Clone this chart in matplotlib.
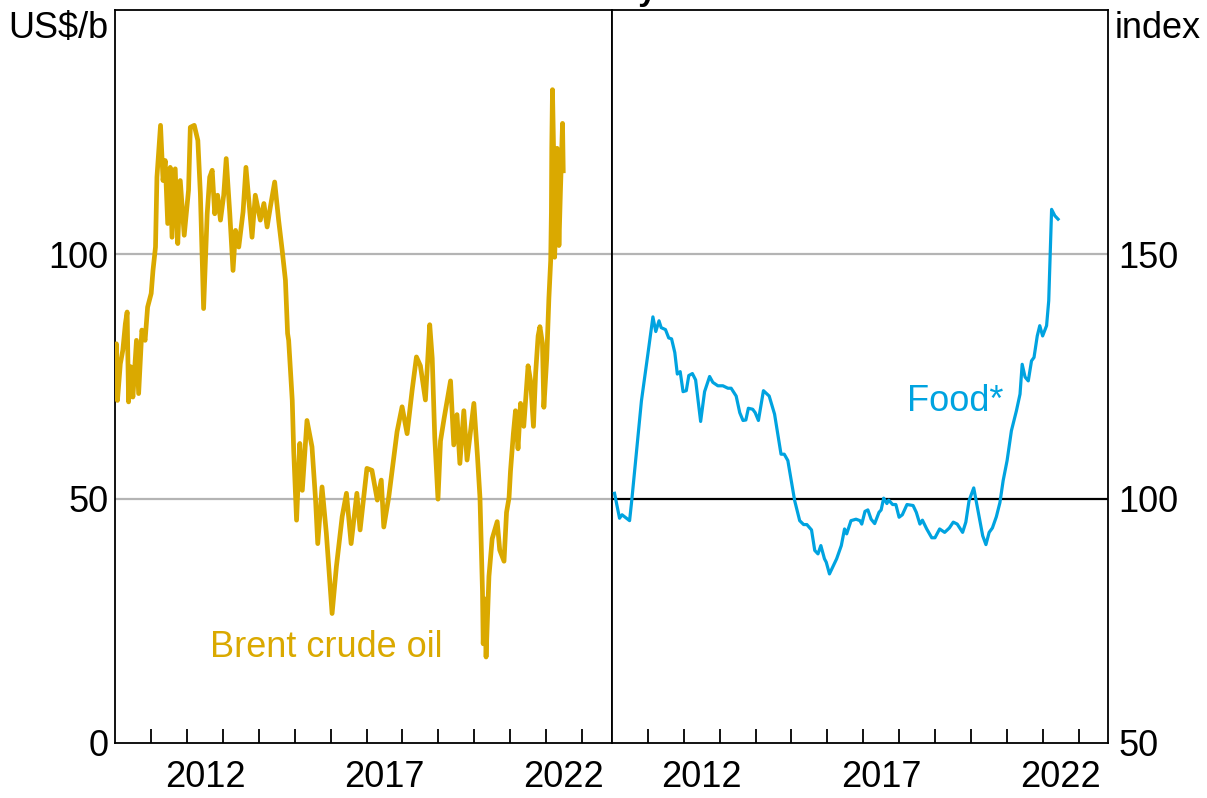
import numpy as np
import matplotlib
matplotlib.use("Agg")
import matplotlib.pyplot as plt

plt.rcParams['font.family'] = ['Liberation Sans', 'DejaVu Sans']

BRENT_COLOR = '#DAA900'
FOOD_COLOR = '#00A3E0'

# Brent crude oil, US$/b (decimal year, price)
brent_years = [
    2010.00, 2010.03, 2010.06, 2010.14, 2010.21, 2010.28, 2010.33, 2010.37, 2010.43, 2010.49,
    2010.59, 2010.65, 2010.74, 2010.83, 2010.90, 2011.00, 2011.05, 2011.12, 2011.16, 2011.26,
    2011.33, 2011.39, 2011.46, 2011.53, 2011.58, 2011.67, 2011.74, 2011.81, 2011.92, 2012.04,
    2012.09, 2012.20, 2012.30, 2012.37, 2012.46, 2012.56, 2012.63, 2012.70, 2012.77, 2012.85,
    2012.93, 2013.02, 2013.09, 2013.19, 2013.28, 2013.35, 2013.44, 2013.56, 2013.64, 2013.72,
    2013.81, 2013.90, 2014.04, 2014.14, 2014.23, 2014.32, 2014.44, 2014.55, 2014.65, 2014.74,
    2014.80, 2014.83, 2014.93, 2014.97, 2015.05, 2015.14, 2015.21, 2015.34, 2015.48, 2015.58,
    2015.64, 2015.76, 2015.88, 2016.04, 2016.16, 2016.32, 2016.44, 2016.57, 2016.73, 2016.82,
    2017.01, 2017.15, 2017.30, 2017.41, 2017.48, 2017.62, 2017.76, 2017.85, 2017.99, 2018.13,
    2018.27, 2018.39, 2018.50, 2018.64, 2018.76, 2018.83, 2018.90, 2018.99, 2019.06, 2019.16,
    2019.25, 2019.34, 2019.43, 2019.52, 2019.60, 2019.71, 2019.80, 2019.90, 2019.99, 2020.09,
    2020.16, 2020.23, 2020.25, 2020.29, 2020.33, 2020.41, 2020.50, 2020.64, 2020.71, 2020.83,
    2020.90, 2020.97, 2021.01, 2021.09, 2021.15, 2021.22, 2021.29, 2021.38, 2021.50, 2021.57,
    2021.65, 2021.71, 2021.78, 2021.83, 2021.90, 2021.94, 2022.02, 2022.08, 2022.13, 2022.15,
    2022.16, 2022.18, 2022.21, 2022.24, 2022.29, 2022.31, 2022.36, 2022.40, 2022.46, 2022.48,
]
brent_price = [
    78.0, 81.7, 70.1, 77.6, 80.4, 85.8, 88.2, 69.8, 77.0, 70.8,
    82.4, 71.5, 84.5, 82.4, 89.2, 92.0, 96.7, 101.5, 115.8, 126.4,
    115.1, 119.2, 106.3, 117.8, 103.5, 117.5, 102.2, 115.1, 103.9, 113.1,
    126.0, 126.4, 123.3, 112.4, 88.9, 108.3, 115.8, 117.2, 108.3, 112.1,
    107.0, 112.1, 119.6, 108.3, 96.7, 104.9, 101.5, 108.7, 117.8, 111.0,
    103.5, 112.1, 107.0, 110.4, 105.6, 109.7, 114.8, 107.0, 100.8, 94.7,
    83.8, 82.4, 70.1, 59.9, 45.6, 61.3, 51.7, 66.0, 60.6, 49.7,
    40.8, 52.4, 42.9, 26.5, 36.1, 46.3, 51.1, 40.8, 51.1, 43.6,
    56.2, 55.8, 49.7, 53.8, 44.2, 50.4, 58.6, 63.7, 68.8, 63.3,
    72.2, 79.0, 77.2, 70.2, 85.6, 78.7, 62.6, 49.9, 61.8, 66.4,
    70.2, 74.1, 61.0, 67.2, 57.2, 68.0, 57.9, 64.1, 69.5, 58.7,
    50.2, 31.0, 20.3, 29.5, 17.6, 34.1, 41.8, 45.3, 39.5, 37.2,
    47.2, 50.2, 55.6, 63.3, 68.0, 60.2, 69.5, 64.8, 77.2, 74.1,
    64.8, 75.6, 83.3, 85.2, 81.8, 68.7, 78.7, 91.0, 98.7, 108.7,
    121.7, 133.7, 121.7, 99.4, 111.0, 121.7, 101.8, 112.5, 126.8, 117.1,
]

# Food price index (decimal year, index)
food_years = [
    2010.07, 2010.21, 2010.28, 2010.49, 2010.55, 2010.82, 2011.00, 2011.14, 2011.22, 2011.31,
    2011.37, 2011.49, 2011.58, 2011.66, 2011.75, 2011.82, 2011.90, 2011.98, 2012.07, 2012.14,
    2012.24, 2012.33, 2012.47, 2012.58, 2012.72, 2012.81, 2012.95, 2013.09, 2013.23, 2013.32,
    2013.46, 2013.56, 2013.65, 2013.73, 2013.80, 2013.92, 2013.99, 2014.08, 2014.22, 2014.38,
    2014.53, 2014.71, 2014.80, 2014.90, 2015.09, 2015.23, 2015.34, 2015.43, 2015.56, 2015.65,
    2015.74, 2015.82, 2015.92, 2015.97, 2016.06, 2016.26, 2016.39, 2016.48, 2016.54, 2016.66,
    2016.80, 2016.91, 2016.96, 2017.05, 2017.13, 2017.22, 2017.32, 2017.44, 2017.50, 2017.57,
    2017.66, 2017.71, 2017.82, 2017.91, 2018.00, 2018.09, 2018.22, 2018.39, 2018.48, 2018.58,
    2018.65, 2018.77, 2018.91, 2019.00, 2019.13, 2019.27, 2019.40, 2019.51, 2019.62, 2019.77,
    2019.86, 2019.95, 2020.08, 2020.20, 2020.33, 2020.42, 2020.51, 2020.60, 2020.71, 2020.81,
    2020.90, 2021.01, 2021.13, 2021.27, 2021.37, 2021.43, 2021.51, 2021.60, 2021.69, 2021.76,
    2021.85, 2021.92, 2022.00, 2022.11, 2022.17, 2022.25, 2022.34, 2022.43,
]
food_index = [
    101.1, 96.0, 96.7, 95.5, 99.6, 120.0, 129.6, 137.2, 134.2, 136.4,
    135.0, 134.6, 132.9, 132.7, 129.9, 125.5, 126.0, 121.9, 122.1, 125.2,
    125.6, 124.3, 115.8, 121.9, 125.0, 123.8, 123.1, 123.1, 122.6, 122.6,
    121.0, 117.6, 116.0, 116.1, 118.5, 118.3, 117.6, 116.0, 122.1, 121.0,
    117.3, 109.1, 109.1, 107.8, 99.6, 95.5, 94.7, 94.7, 93.6, 89.4,
    88.7, 90.4, 87.7, 87.0, 84.6, 87.7, 90.4, 93.8, 92.8, 95.5,
    95.8, 95.5, 94.8, 97.4, 97.7, 95.8, 94.9, 97.2, 97.7, 100.1,
    99.0, 99.7, 98.8, 98.8, 96.2, 96.7, 98.8, 98.6, 97.2, 94.8,
    95.6, 93.8, 92.0, 92.0, 93.8, 93.1, 94.0, 95.2, 94.8, 93.1,
    95.2, 99.6, 102.2, 97.5, 92.4, 90.6, 93.1, 94.0, 96.3, 99.2,
    103.7, 107.8, 113.9, 118.0, 121.4, 127.5, 124.9, 124.1, 128.2, 128.9,
    133.3, 135.4, 133.3, 135.4, 140.5, 159.2, 157.9, 157.2,
]

year_ticks = list(range(2011, 2024))
year_labels = [2012, 2017, 2022]
left_yticks = [0, 50, 100]
right_yticks = [50, 100, 150]

X_MIN, X_MAX = 2010.0, 2023.83
FS = 26


def style_panel(ax):
    ax.set_xlim(X_MIN, X_MAX)
    for s in ax.spines.values():
        s.set_linewidth(1.3)
        s.set_color('black')
    ax.set_xticks(year_ticks)
    ax.set_xticklabels([])
    ax.set_xticks([y + 0.5 for y in year_labels], minor=True)
    ax.set_xticklabels([str(y) for y in year_labels], minor=True, fontsize=FS)
    ax.tick_params(axis='x', which='major', direction='in', length=10, width=1.3)
    ax.tick_params(axis='x', which='minor', length=0, pad=12)


def main():
    fig = plt.figure(figsize=(12.07, 7.98), dpi=100)
    bottom = 55 / 798
    height = 733 / 798
    ax1 = fig.add_axes([115.3 / 1207, bottom, 496.4 / 1207, height])
    ax2 = fig.add_axes([612 / 1207, bottom, 496.3 / 1207, height])

    # left panel: Brent
    style_panel(ax1)
    ax1.set_ylim(0, 150)
    for g in [50, 100]:
        ax1.axhline(g, color='#B4B4B4', lw=1.6, zorder=1)
    ax1.plot(brent_years, brent_price, color=BRENT_COLOR, lw=3.4, zorder=3)
    ax1.set_yticks(left_yticks)
    ax1.set_yticklabels([str(v) for v in left_yticks], fontsize=FS)
    ax1.tick_params(axis='y', length=0, pad=5)
    ax1.text(2012.65, 17.6, 'Brent crude oil', color=BRENT_COLOR, fontsize=FS,
             ha='left', va='baseline')

    # right panel: Food
    style_panel(ax2)
    ax2.set_ylim(50, 200)
    ax2.axhline(150, color='#B4B4B4', lw=1.6, zorder=1)
    ax2.axhline(100, color='black', lw=1.6, zorder=2)
    ax2.plot(food_years, food_index, color=FOOD_COLOR, lw=2.3, zorder=3)
    ax2.yaxis.tick_right()
    ax2.set_yticks(right_yticks)
    ax2.set_yticklabels([str(v) for v in right_yticks], fontsize=FS)
    ax2.tick_params(axis='y', length=0, pad=7)
    ax2.text(2018.22, 118.0, 'Food*', color=FOOD_COLOR, fontsize=FS,
             ha='left', va='baseline')

    fig.text(108 / 1207, 1 - 38 / 798, 'US$/b', fontsize=FS, ha='right', va='baseline')
    fig.text(1115 / 1207, 1 - 38 / 798, 'index', fontsize=FS, ha='left', va='baseline')
    # the title sits above the frame, only its descender shows, as in the reference
    fig.text(620 / 1207, 1.0, 'Commodity Prices', fontsize=24, weight='bold',
             ha='center', va='baseline')

    fig.savefig('out.png', dpi=100)


if __name__ == "__main__":
    main()
